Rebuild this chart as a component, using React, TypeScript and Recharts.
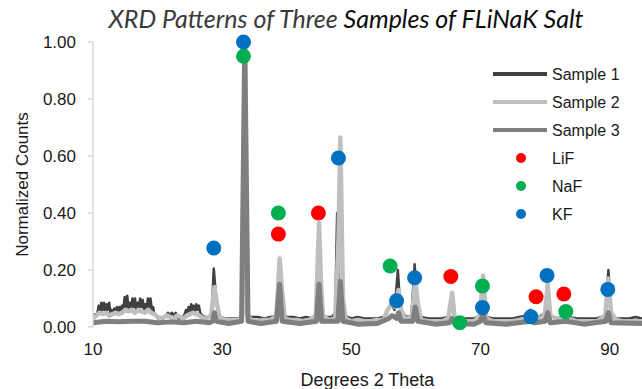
import { ComposedChart, Line, Scatter, XAxis, YAxis } from "recharts";

const DARK = "#404040";
const LIGHT = "#bfbfbf";
const MID = "#7f7f7f";
const RED = "#ff0000";
const GREEN = "#00b050";
const BLUE = "#0070c0";
const AXIS = "#d9d9d9";
const TXT = "#1a1a1a";

const X_TICKS = [10, 30, 50, 70, 90];
const Y_TICKS = [0, 0.2, 0.4, 0.6, 0.8, 1.0];

// [2 theta, normalized counts]
const SAMPLE_1: [number, number][] = [
  [10, 0.03], [10.3, 0.045], [10.6, 0.04], [10.9, 0.075], [11.1, 0.05], [11.3, 0.085], [11.5, 0.06],
  [11.7, 0.085], [11.9, 0.055], [12.1, 0.08], [12.3, 0.06], [12.5, 0.085], [12.7, 0.05], [12.9, 0.06],
  [13.1, 0.045], [13.3, 0.065], [13.5, 0.05], [13.7, 0.07], [13.9, 0.05], [14.1, 0.07], [14.3, 0.055],
  [14.5, 0.075], [14.7, 0.06], [14.9, 0.105], [15.1, 0.07], [15.3, 0.11], [15.5, 0.065], [15.7, 0.085],
  [15.9, 0.06], [16.1, 0.1], [16.3, 0.07], [16.5, 0.1], [16.7, 0.06], [16.9, 0.085], [17.1, 0.065],
  [17.3, 0.1], [17.5, 0.07], [17.7, 0.095], [17.9, 0.06], [18.1, 0.08], [18.3, 0.065], [18.5, 0.1],
  [18.7, 0.07], [18.9, 0.1], [19.1, 0.06], [19.3, 0.07], [19.5, 0.045], [19.8, 0.04], [20.1, 0.03],
  [20.5, 0.035], [20.9, 0.03], [21.3, 0.04], [21.6, 0.05], [21.9, 0.04], [22.2, 0.05], [22.5, 0.04],
  [22.8, 0.05], [23.1, 0.03], [23.5, 0.03], [23.9, 0.035], [24.2, 0.045], [24.4, 0.06], [24.6, 0.045],
  [24.8, 0.07], [25, 0.05], [25.2, 0.08], [25.4, 0.055], [25.6, 0.075], [25.8, 0.055], [26, 0.08],
  [26.2, 0.06], [26.4, 0.075], [26.6, 0.05], [26.9, 0.04], [27.3, 0.035], [27.8, 0.035], [28.2, 0.04],
  [28.4, 0.06], [28.7, 0.205], [29, 0.12],
  [29.3, 0.05], [29.8, 0.035], [30.5, 0.03], [31.5, 0.03], [32.5, 0.03], [33, 0.04], [33.4, 1.0],
  [33.8, 0.04], [34.5, 0.035], [35.5, 0.035], [36.5, 0.03], [37.5, 0.035], [38.3, 0.04], [38.8, 0.15],
  [39.2, 0.05], [40, 0.035], [41, 0.035], [42, 0.03], [43, 0.035], [44, 0.03], [44.6, 0.04],
  [44.9, 0.16], [45.3, 0.04], [46, 0.035], [47, 0.035], [47.5, 0.05], [47.8, 0.4], [48.1, 0.05],
  [48.4, 0.16], [48.8, 0.04], [50, 0.03], [51, 0.035], [52, 0.03], [53, 0.03], [54, 0.03],
  [55, 0.035], [55.7, 0.06], [56.2, 0.08], [56.7, 0.06], [57.2, 0.2], [57.6, 0.06], [58.5, 0.035],
  [59.3, 0.04], [59.8, 0.22], [60.2, 0.08], [60.7, 0.035], [62, 0.03], [63, 0.03], [64, 0.03],
  [65, 0.035], [65.5, 0.07], [66, 0.035], [67, 0.03], [68, 0.03], [69, 0.03], [70, 0.04],
  [70.4, 0.1], [70.9, 0.035], [72, 0.03], [73, 0.03], [74, 0.03], [75, 0.03], [76, 0.035],
  [77, 0.04], [77.7, 0.06], [78.2, 0.05], [79, 0.035], [80, 0.05], [80.4, 0.12], [80.8, 0.04],
  [82, 0.03], [83, 0.045], [83.5, 0.035], [85, 0.03], [86, 0.03], [87, 0.03], [88, 0.03],
  [89.3, 0.04], [89.8, 0.2], [90.2, 0.05], [91, 0.03], [92, 0.03], [93, 0.03], [94, 0.035], [95, 0.03],
];

const SAMPLE_2: [number, number][] = [
  [10, 0.03], [10.5, 0.04], [11, 0.05], [11.5, 0.045], [12, 0.05], [12.5, 0.04], [13, 0.045],
  [13.5, 0.05], [14, 0.045], [14.5, 0.05], [15, 0.06], [15.5, 0.055], [16, 0.06], [16.5, 0.05],
  [17, 0.06], [17.5, 0.055], [18, 0.05], [18.5, 0.06], [19, 0.05], [19.5, 0.045], [20, 0.035],
  [20.5, 0.03], [21, 0.035], [21.5, 0.04], [22, 0.035], [22.5, 0.03], [23, 0.04], [23.5, 0.035],
  [24, 0.03], [24.5, 0.04], [25, 0.045], [25.5, 0.05], [26, 0.045], [26.5, 0.04], [27, 0.03],
  [27.5, 0.03], [28.3, 0.04], [28.8, 0.14], [29.2, 0.08], [29.6, 0.035], [30.5, 0.025], [31.5, 0.025],
  [32.5, 0.025], [33.1, 0.04], [33.5, 1.0], [33.9, 0.04], [34.5, 0.025], [35.5, 0.02], [36.5, 0.025],
  [37.5, 0.025], [38.4, 0.04], [38.9, 0.24], [39.3, 0.12], [39.7, 0.03], [40.5, 0.025], [41.5, 0.025],
  [42.5, 0.02], [43.5, 0.025], [44.5, 0.04], [45, 0.365], [45.3, 0.15], [45.6, 0.04], [46.5, 0.025],
  [47.5, 0.03], [48, 0.3], [48.3, 0.665], [48.7, 0.1], [49.1, 0.03], [50, 0.02], [51, 0.025],
  [52, 0.02], [53, 0.02], [54, 0.025], [55, 0.025], [55.6, 0.06], [56.2, 0.08], [56.8, 0.07],
  [57.3, 0.13], [57.7, 0.06], [58.4, 0.025], [59.4, 0.04], [59.9, 0.17], [60.3, 0.08], [60.8, 0.025],
  [62, 0.02], [63, 0.02], [64, 0.02], [65, 0.03], [65.6, 0.12], [66, 0.03], [67, 0.02], [68, 0.02],
  [69, 0.02], [69.9, 0.04], [70.4, 0.18], [70.9, 0.03], [72, 0.02], [73, 0.02], [74, 0.02],
  [75, 0.02], [76, 0.025], [77, 0.03], [77.8, 0.045], [78.4, 0.04], [79.4, 0.03], [80, 0.05],
  [80.4, 0.15], [80.8, 0.04], [82, 0.025], [82.8, 0.035], [83.2, 0.05], [83.6, 0.03], [85, 0.02],
  [86, 0.02], [87, 0.02], [88, 0.02], [89.3, 0.04], [89.8, 0.17], [90.2, 0.05], [91, 0.025],
  [92, 0.02], [93, 0.02], [94, 0.02], [95, 0.02],
];

const SAMPLE_3: [number, number][] = [
  [10, 0.015], [12, 0.02], [14, 0.018], [16, 0.02], [18, 0.02], [20, 0.015], [22, 0.018], [24, 0.015],
  [26, 0.02], [28, 0.015], [28.5, 0.02], [28.8, 0.05], [29.1, 0.02], [31, 0.012], [33, 0.02],
  [33.5, 1.0], [34, 0.02], [36, 0.012], [38.4, 0.02], [38.9, 0.15], [39.3, 0.02], [42, 0.012],
  [44.6, 0.02], [45, 0.15], [45.4, 0.02], [47.9, 0.02], [48.3, 0.16], [48.7, 0.02], [51, 0.01],
  [54, 0.012], [55.8, 0.03], [56.3, 0.04], [57, 0.03], [57.3, 0.05], [57.7, 0.02], [59.5, 0.02],
  [59.9, 0.07], [60.3, 0.02], [63, 0.01], [65.2, 0.015], [65.6, 0.03], [66, 0.012], [69, 0.01],
  [70, 0.02], [70.4, 0.05], [70.8, 0.015], [74, 0.01], [77.8, 0.02], [78.3, 0.015], [80, 0.02],
  [80.4, 0.05], [80.8, 0.015], [83.2, 0.02], [86, 0.01], [89.4, 0.02], [89.8, 0.05], [90.2, 0.015],
  [95, 0.012],
];

// phase markers
const LIF: [number, number][] = [[38.7, 0.326], [44.9, 0.4], [65.4, 0.177], [78.6, 0.106], [82.9, 0.116]];
const NAF: [number, number][] = [[33.3, 0.95], [38.7, 0.4], [56.0, 0.214], [66.8, 0.015], [70.3, 0.144], [83.2, 0.054]];
const KF: [number, number][] = [
  [28.7, 0.277], [33.3, 1.0], [48.0, 0.593], [57.0, 0.092], [59.8, 0.173], [70.3, 0.068],
  [77.8, 0.036], [80.3, 0.181], [89.7, 0.132],
];

const toPts = (arr: [number, number][]) => arr.map(([x, y]) => ({ x, y }));

const LINES = [
  { name: "Sample 1", data: SAMPLE_1, color: DARK, width: 2.5 },
  { name: "Sample 2", data: SAMPLE_2, color: LIGHT, width: 4.5 },
  { name: "Sample 3", data: SAMPLE_3, color: MID, width: 5 },
];
const DOTS = [
  { name: "LiF", data: LIF, color: RED },
  { name: "NaF", data: NAF, color: GREEN },
  { name: "KF", data: KF, color: BLUE },
];

const font = "'Liberation Sans', Arial, sans-serif";

function LegendBox() {
  return (
    <svg width={160} height={170} style={{ position: "absolute", left: 482, top: 60 }}>
      {LINES.map((l, i) => (
        <g key={l.name}>
          <line x1={11} x2={65} y1={14 + i * 28} y2={14 + i * 28} stroke={l.color} strokeWidth={4} />
          <text x={70} y={14 + i * 28} dy="0.35em" fontFamily={font} fontSize={16} fill={TXT}>
            {l.name}
          </text>
        </g>
      ))}
      {DOTS.map((d, i) => (
        <g key={d.name}>
          <circle cx={39} cy={98 + i * 28} r={5} fill={d.color} />
          <text x={70} y={98 + i * 28} dy="0.35em" fontFamily={font} fontSize={16} fill={TXT}>
            {d.name}
          </text>
        </g>
      ))}
    </svg>
  );
}

export default function App() {
  return (
    <div style={{ position: "absolute", left: 0, top: 0, width: 642, height: 389, background: "#fff" }}>
      <ComposedChart width={642} height={389} margin={{ top: 42, right: 0, bottom: 0, left: 0 }}>
        <XAxis
          dataKey="x"
          type="number"
          domain={[10, 95]}
          ticks={X_TICKS}
          allowDataOverflow
          axisLine={false}
          tickLine={false}
          tickSize={0}
          tickMargin={16}
          height={62}
          tick={{ fontSize: 17, fill: TXT, fontFamily: font }}
          label={{ value: "Degrees 2 Theta", position: "insideBottom", offset: 3, fontSize: 18, fill: TXT, fontFamily: font }}
        />
        <XAxis
          xAxisId="top"
          orientation="top"
          type="number"
          domain={[10, 95]}
          ticks={X_TICKS}
          allowDataOverflow
          height={0}
          mirror
          tickSize={4}
          tickFormatter={() => ""}
          axisLine={{ stroke: AXIS, strokeWidth: 1.5 }}
          tickLine={{ stroke: AXIS, strokeWidth: 1.5 }}
        />
        <YAxis
          type="number"
          domain={[0, 1]}
          ticks={Y_TICKS}
          width={93}
          tickSize={5}
          tickMargin={12}
          tickFormatter={(v: number) => v.toFixed(2)}
          axisLine={{ stroke: AXIS, strokeWidth: 1.5 }}
          tickLine={{ stroke: AXIS, strokeWidth: 1.5 }}
          tick={{ fontSize: 17, fill: TXT, fontFamily: font }}
          label={{ value: "Normalized Counts", angle: -90, position: "insideLeft", offset: 22, fontSize: 17, fill: TXT, fontFamily: font, style: { textAnchor: "middle" } }}
        />
        {LINES.map((l) => (
          <Line
            key={l.name}
            isAnimationActive={false}
            data={toPts(l.data)}
            dataKey="y"
            type="linear"
            stroke={l.color}
            strokeWidth={l.width}
            strokeLinejoin="round"
            dot={false}
            activeDot={false}
          />
        ))}
        {DOTS.map((d) => (
          <Scatter
            key={d.name}
            isAnimationActive={false}
            data={toPts(d.data)}
            dataKey="y"
            fill={d.color}
            shape={(p: any) => <circle cx={p.cx} cy={p.cy} r={7.5} fill={d.color} />}
          />
        ))}
        <text x={346} y={19} dy="0.35em" textAnchor="middle" fontFamily="Lato, sans-serif" fontStyle="italic" fontSize={25}>
          <tspan fill="#3a3a3a">XRD Patterns of Three </tspan>
          <tspan fill="#0d0d0d">Samples of FLiNaK Salt</tspan>
        </text>
      </ComposedChart>
      <LegendBox />
    </div>
  );
}
